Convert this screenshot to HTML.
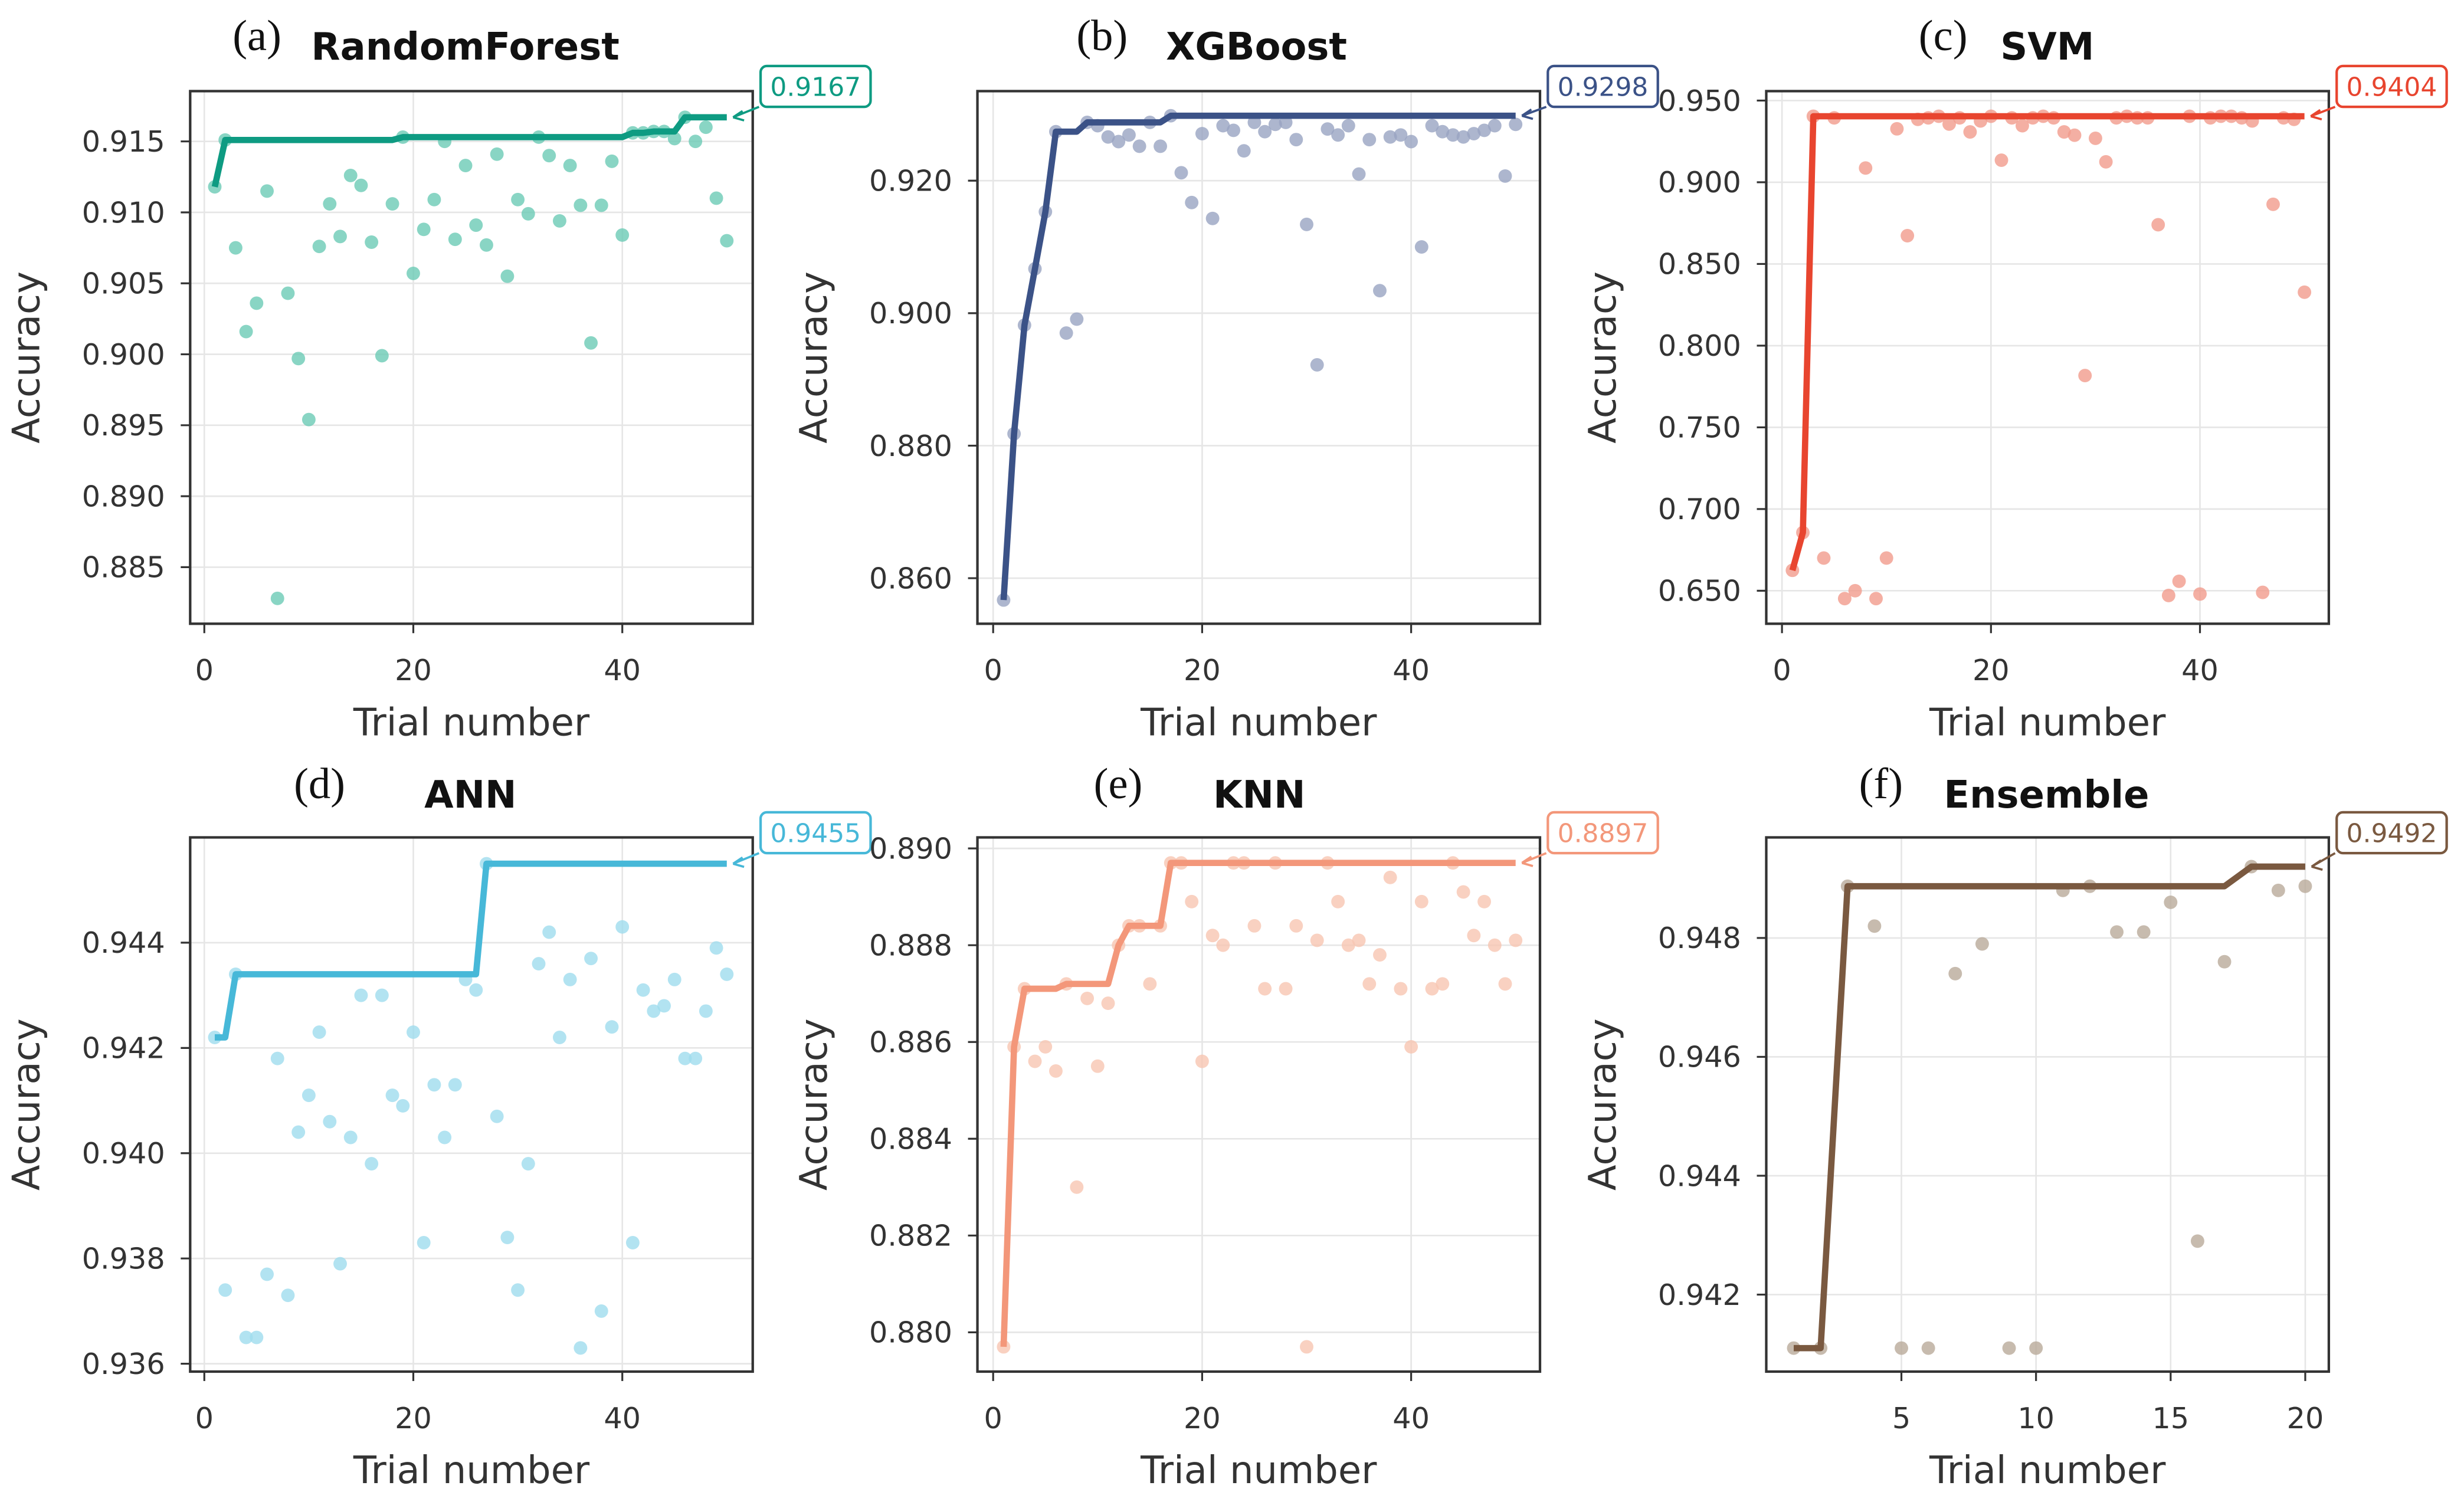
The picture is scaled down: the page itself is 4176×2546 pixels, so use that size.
<!DOCTYPE html>
<html><head><meta charset="utf-8"><style>
html,body{margin:0;padding:0;background:#fff;}
svg{display:block;}
</style></head><body>
<svg id="chart" xmlns="http://www.w3.org/2000/svg" width="4176" height="2546" viewBox="0 0 1568 956" font-family="DejaVu Sans, Liberation Sans, sans-serif"></svg>
<script>
// ---- data ----
const rfValues=[.9118,.9151,.9075,.9016,.9036,.9115,.8828,.9043,.8997,.8954,.9076,.9106,.9083,.9126,.9119,.9079,.8999,.9106,.9153,.9057,.9088,.9109,.9150,.9081,.9133,.9091,.9077,.9141,.9055,.9109,.9099,.9153,.9140,.9094,.9133,.9105,.9008,.9105,.9136,.9084,.9156,.9156,.9157,.9157,.9152,.9167,.9150,.9160,.9110,.9080];
const xgbValues=[.8567,.8818,.8982,.9067,.9153,.9274,.8970,.8991,.9288,.9283,.9266,.9259,.9269,.9252,.9288,.9252,.9298,.9212,.9167,.9271,.9143,.9283,.9276,.9245,.9288,.9274,.9285,.9288,.9262,.9134,.8922,.9278,.9269,.9283,.9210,.9262,.9034,.9266,.9269,.9259,.9100,.9283,.9274,.9269,.9266,.9271,.9276,.9283,.9207,.9285];
const svmValues=[.6625,.6856,.9404,.6700,.9394,.6452,.6500,.9087,.6452,.6700,.9327,.8673,.9385,.9394,.9404,.9356,.9394,.9308,.9375,.9404,.9135,.9394,.9346,.9394,.9404,.9394,.9308,.9288,.7817,.9269,.9125,.9394,.9404,.9394,.9394,.8740,.6471,.6558,.9404,.6480,.9394,.9404,.9404,.9394,.9375,.6490,.8865,.9394,.9385,.8327];
const annValues=[.9422,.9374,.9434,.9365,.9365,.9377,.9418,.9373,.9404,.9411,.9423,.9406,.9379,.9403,.9430,.9398,.9430,.9411,.9409,.9423,.9383,.9413,.9403,.9413,.9433,.9431,.9455,.9407,.9384,.9374,.9398,.9436,.9442,.9422,.9433,.9363,.9437,.9370,.9424,.9443,.9383,.9431,.9427,.9428,.9433,.9418,.9418,.9427,.9439,.9434];
const knnValues=[.8797,.8859,.8871,.8856,.8859,.8854,.8872,.8830,.8869,.8855,.8868,.8880,.8884,.8884,.8872,.8884,.8897,.8897,.8889,.8856,.8882,.8880,.8897,.8897,.8884,.8871,.8897,.8871,.8884,.8797,.8881,.8897,.8889,.8880,.8881,.8872,.8878,.8894,.8871,.8859,.8889,.8871,.8872,.8897,.8891,.8882,.8889,.8880,.8872,.8881];
const ensValues=[.9411,.9411,.94887,.9482,.9411,.9411,.9474,.9479,.9411,.9411,.9488,.94887,.9481,.9481,.9486,.9429,.9476,.9492,.9488,.94887];
const modelNames=["RandomForest","XGBoost","SVM","ANN","KNN","Ensemble"];
const panelLetters=["(a)","(b)","(c)","(d)","(e)","(f)"];
const xTicks50=[0,20,40];
const xTicks20=[5,10,15,20];
const rfYTicks=[.885,.890,.895,.900,.905,.910,.915];
const xgbYTicks=[.860,.880,.900,.920];
const svmYTicks=[.650,.700,.750,.800,.850,.900,.950];
const annYTicks=[.936,.938,.940,.942,.944];
const knnYTicks=[.880,.882,.884,.886,.888,.890];
const ensYTicks=[.942,.944,.946,.948];

const NS="http://www.w3.org/2000/svg";
const svg=document.getElementById('chart');
function mk(tag,attrs,parent,txt){const e=document.createElementNS(NS,tag);for(const k in attrs)e.setAttribute(k,attrs[k]);if(txt!==undefined)e.textContent=txt;(parent||svg).appendChild(e);return e;}
function lin(v0,p0,v1,p1){return v=>p0+(v-v0)*(p1-p0)/(v1-v0);}

const panels=[
 {vals:rfValues,yt:rfYTicks,xt:xTicks50,dec:3,box:[121,58,479,397],x:lin(0,130,40,396),y:lin(.915,90,.885,361),col:"#0e9b82",pt:"#6ccab5",lx:148,nx:198,ty:38},
 {vals:xgbValues,yt:xgbYTicks,xt:xTicks50,dec:3,box:[622,58,980,397],x:lin(0,632,40,898),y:lin(.920,115,.860,368),col:"#3b5287",pt:"#98a4c2",lx:685,nx:742,ty:38},
 {vals:svmValues,yt:svmYTicks,xt:xTicks50,dec:3,box:[1124,58,1482,397],x:lin(0,1134,40,1400),y:lin(.950,64,.650,376),col:"#e8452f",pt:"#f19b8c",lx:1221,nx:1273,ty:38},
 {vals:annValues,yt:annYTicks,xt:xTicks50,dec:3,box:[121,533,479,873],x:lin(0,130,40,396),y:lin(.944,600,.936,868),col:"#47b8d8",pt:"#9fdced",lx:187,nx:270,ty:514},
 {vals:knnValues,yt:knnYTicks,xt:xTicks50,dec:3,box:[622,533,980,873],x:lin(0,632,40,898),y:lin(.890,540,.880,848),col:"#f3977a",pt:"#f8c5b2",lx:696,nx:772,ty:514},
 {vals:ensValues,yt:ensYTicks,xt:xTicks20,dec:3,box:[1124,533,1482,873],x:lin(5,1210,20,1467),y:lin(.948,597,.942,824),col:"#7a5940",pt:"#b9aa9a",lx:1183,nx:1237,ty:514}
];

panels.forEach((p,i)=>{
 const g=mk('g',{});
 
 
 const [x0,y0,x1,y1]=p.box;
 p.yt.forEach(v=>{const yy=p.y(v);
  const l=mk('line',{x1:x0,x2:x1,y1:yy,y2:yy,stroke:"#e6e6e6","stroke-width":1},g);
  
  const t=mk('line',{x1:x0-6,x2:x0,y1:yy,y2:yy,stroke:"#333","stroke-width":1.2},g);
  
  const tx=mk('text',{x:x0-16,y:yy+6.5,"text-anchor":"end","font-size":18.5,fill:"#333"},g,v.toFixed(p.dec));
  
 });
 p.xt.forEach(v=>{const xx=p.x(v);
  const l=mk('line',{x1:xx,x2:xx,y1:y0,y2:y1,stroke:"#e6e6e6","stroke-width":1},g);
  
  const t=mk('line',{x1:xx,x2:xx,y1:y1,y2:y1+6,stroke:"#333","stroke-width":1.2},g);
  
  const tx=mk('text',{x:xx,y:y1+36,"text-anchor":"middle","font-size":18.5,fill:"#333"},g,String(v));
  
 });
 const xOf=k=>p.x(k+1);
 p.vals.forEach((v,k)=>{
  const c=mk('circle',{cx:xOf(k),cy:p.y(v),r:4.3,fill:p.pt,"fill-opacity":0.8},g);
  
 });
 let best=-1;const pts=[];
 p.vals.forEach((v,k)=>{best=Math.max(best,v);pts.push(xOf(k).toFixed(2)+','+p.y(best).toFixed(2));});
 const pl=mk('polyline',{points:pts.join(' '),fill:"none",stroke:p.col,"stroke-width":4,"stroke-linejoin":"round"},g);
 
 const fr=mk('rect',{x:x0,y:y0,width:x1-x0,height:y1-y0,fill:"none",stroke:"#333","stroke-width":1.6},g);
 
 const lastX=xOf(p.vals.length-1),lastY=p.y(best);
 const bx=x1+5,by=y0-16;
 const ab=mk('rect',{x:bx,y:by,width:70,height:26,rx:4,fill:"#fff",stroke:p.col,"stroke-width":1.6},g);
 
 const at=mk('text',{x:bx+35,y:by+19,"text-anchor":"middle","font-size":16.5,fill:p.col},g,best.toFixed(4));
 
 const ar=mk('path',{d:`M${bx-1},${by+26} L${lastX+4},${lastY} M${lastX+4},${lastY} l6,-4 M${lastX+4},${lastY} l7,2`,stroke:p.col,"stroke-width":1.4,fill:"none"},g);
 
 const lt=mk('text',{x:p.lx,y:p.ty-6,"font-size":28,fill:"#111","font-family":"Liberation Serif, serif"},g,panelLetters[i]);
 
 const nt=mk('text',{x:p.nx,y:p.ty,"font-size":24,"font-weight":"bold",fill:"#111"},g,modelNames[i]);
 
 const xl=mk('text',{x:(x0+x1)/2,y:y1+71,"text-anchor":"middle","font-size":24,fill:"#333"},g,"Trial number");
 
 const cy=(y0+y1)/2;
 const yl=mk('text',{x:x0-96,y:cy,"text-anchor":"middle","font-size":24,fill:"#333",transform:`rotate(-90 ${x0-96} ${cy})`},g,"Accuracy");
 
});
</script>
</body></html>
